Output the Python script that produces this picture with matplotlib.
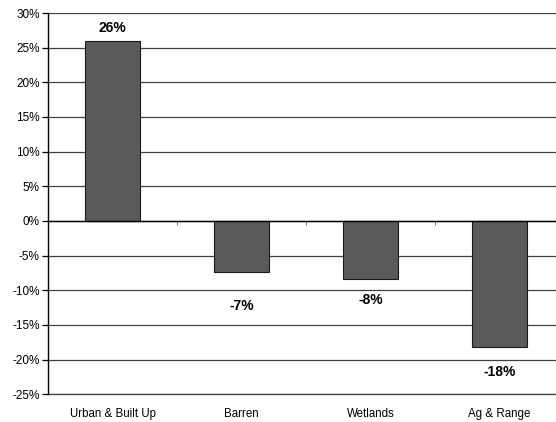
import numpy as np
import matplotlib.pyplot as plt
from matplotlib.ticker import FuncFormatter, MultipleLocator

plt.rcParams['font.family'] = ['Liberation Sans', 'DejaVu Sans']

# land cover change (%)
categories = ['Urban & Built Up', 'Barren', 'Wetlands', 'Ag & Range']
change_pct = [26.0, -7.4, -8.4, -18.2]
# label offsets in points (Excel put them at odd spots)
label_offsets = [9.5, -24.5, -15, -18]

fig = plt.figure(figsize=(5.56, 4.22), dpi=100)
ax = fig.add_axes([48 / 556, 27.7 / 422, 516 / 556, 381.3 / 422])

x = np.arange(len(categories))
ax.bar(x, change_pct, width=0.42, color='#5a5a5a', edgecolor='#1a1a1a', linewidth=0.8, zorder=3)

for xi, v, off in zip(x, change_pct, label_offsets):
    ax.annotate(f"{v:.0f}%", (xi, v), xytext=(0, off), textcoords='offset points',
                ha='center', va='center', fontsize=10, fontweight='bold', zorder=4)

ax.set_xlim(-0.5, len(categories) - 0.5)
ax.set_ylim(-25, 30)
ax.yaxis.set_major_locator(MultipleLocator(5))
ax.yaxis.set_major_formatter(FuncFormatter(lambda v, p: f"{int(round(v))}%"))
ax.grid(axis='y', color='#404040', linewidth=0.9, zorder=0)
# bottom gridline gets lost at the edge, draw it explicitly
ax.axhline(-25, color='#404040', linewidth=0.9, clip_on=False, zorder=1)
ax.tick_params(axis='y', direction='out', length=4, width=0.9, labelsize=8.5, pad=2)

# category axis sits on the zero line
ax.spines['bottom'].set_position(('data', 0))
ax.spines['bottom'].set_linewidth(1.0)
ax.spines['bottom'].set_zorder(5)
ax.set_xticks(x)
ax.set_xticklabels([])
ax.tick_params(axis='x', which='major', length=0)
ax.set_xticks(x[:-1] + 0.5, minor=True)
ax.tick_params(axis='x', which='minor', direction='out', length=3, width=0.8, color='#808080')
for side in ['top', 'right']:
    ax.spines[side].set_visible(False)
ax.spines['left'].set_linewidth(1.0)

for xi, name in zip(x, categories):
    ax.text(xi, -0.052, name, transform=ax.get_xaxis_transform(), ha='center', va='center', fontsize=8.3)

fig.savefig('out.png', dpi=100)
